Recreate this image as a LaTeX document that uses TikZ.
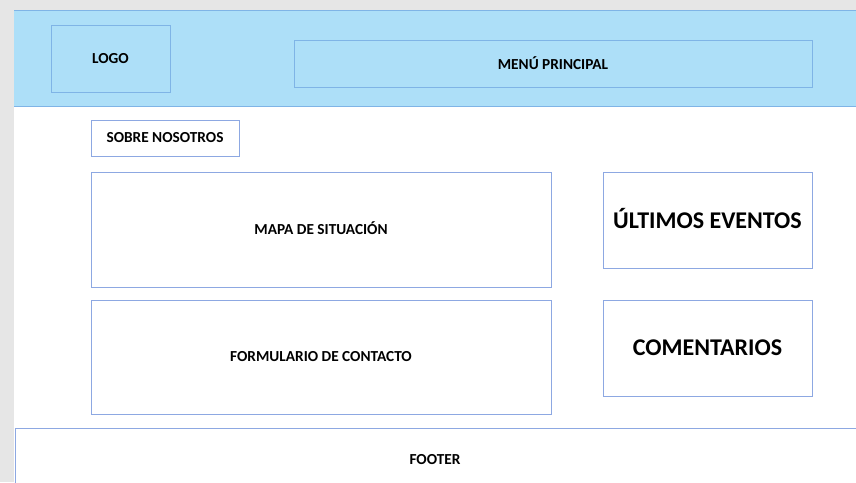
\documentclass[tikz,border=0pt]{standalone}
\usepackage{fontspec}
\setmainfont{Carlito}
\definecolor{pagegray}{HTML}{E6E6E6}
\definecolor{hdrfill}{HTML}{ADDFF8}
\definecolor{hdrline}{HTML}{7FB4E6}
\definecolor{boxline}{HTML}{8DA8E2}
\begin{document}
\begin{tikzpicture}[x=1pt,y=-1pt,
  box/.style={draw=boxline,line width=1pt,fill=white,inner sep=0pt,font=\bfseries\fontsize{15.3}{17}\selectfont},
  hbox/.style={draw=hdrline,line width=1pt,fill=hdrfill,inner sep=0pt,font=\bfseries\fontsize{15.3}{17}\selectfont},
  bigbox/.style={box,font=\bfseries\fontsize{24}{28}\selectfont}]
\useasboundingbox (0,0) rectangle (856,482);
\fill[pagegray] (0,0) rectangle (856,482);
\fill[white] (14,10) rectangle (856,482);
% header
\fill[hdrfill] (14,10) rectangle (856,106);
\draw[hdrline,line width=1pt] (14,10.5) -- (856,10.5);
\draw[hdrline,line width=1pt] (14,106) -- (856,106);
\node[hbox,minimum width=119pt,minimum height=67pt] (logo) at (110.5,58.5) {LOGO};
\node[hbox,minimum width=518pt,minimum height=47pt] (menu) at (553,63.5) {MENÚ PRINCIPAL};
% content
\node[box,minimum width=148pt,minimum height=36pt] (sobre) at (165,138) {SOBRE NOSOTROS};
\node[box,minimum width=460pt,minimum height=115pt] (mapa) at (321,229.5) {\raisebox{2pt}{MAPA DE SITUACIÓN}};
\node[box,minimum width=460pt,minimum height=114pt] (form) at (321,357) {FORMULARIO DE CONTACTO};
\node[bigbox,minimum width=209pt,minimum height=96pt] (eventos) at (707.5,220) {\raisebox{3pt}{ÚLTIMOS EVENTOS}};
\node[bigbox,minimum width=209pt,minimum height=96pt] (coment) at (707.5,348) {COMENTARIOS};
% footer
\draw[boxline,line width=1pt,fill=white] (15,490) -- (15,428) -- (860,428) -- (860,490);
\node[font=\bfseries\fontsize{15.3}{17}\selectfont] (footer) at (435,460) {FOOTER};
\end{tikzpicture}
\end{document}
